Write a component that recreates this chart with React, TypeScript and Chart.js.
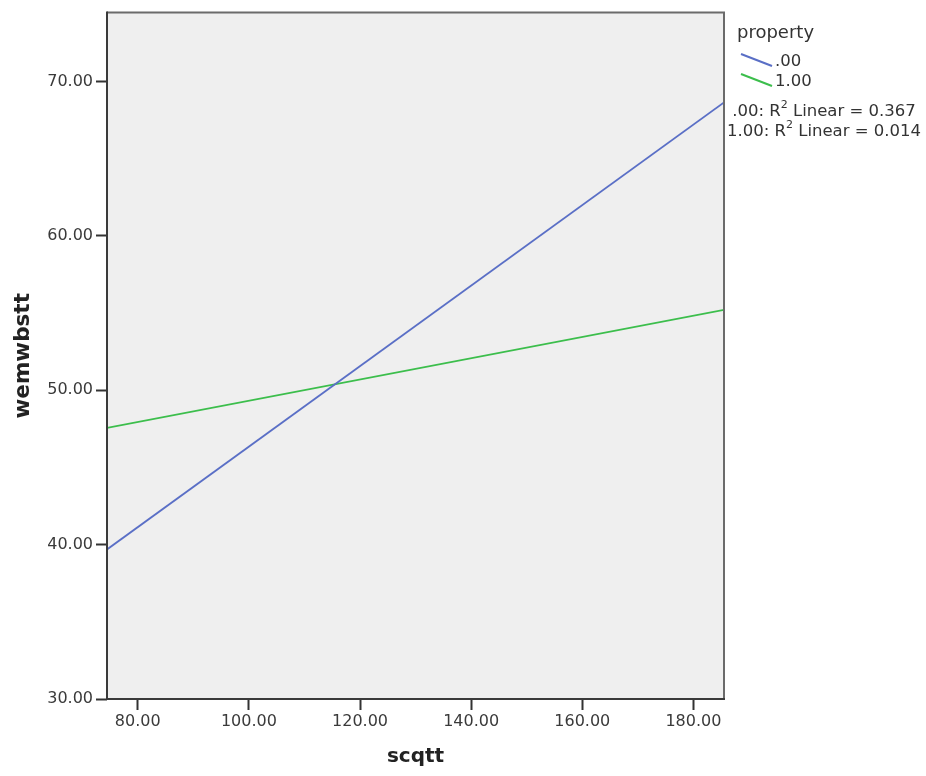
import React, { useEffect, useRef } from "react";
import { Chart, registerables } from "chart.js";

Chart.register(...registerables);

// ---- data ----
const xRange = [74.47, 185.5];
const seriesNames = [".00", "1.00"];
const series0Y = [39.69, 68.64];
const series1Y = [47.56, 55.2];
const r2Values = ["0.367", "0.014"];
const xTicks = [80, 100, 120, 140, 160, 180];
const yTicks = [30, 40, 50, 60, 70];
const yRange = [30, 74.46];
const xTitle = "scqtt";
const yTitle = "wemwbstt";
const legendTitle = "property";
const colors = ["#5a6fc6", "#3cbe4c"];

const FONT = "'DejaVu Sans', sans-serif";

const decorPlugin = {
  id: "decor",
  beforeDraw(chart: any) {
    const { ctx, chartArea: a } = chart;
    ctx.save();
    ctx.fillStyle = "#efefef";
    ctx.fillRect(a.left, a.top, a.right - a.left, a.bottom - a.top);
    ctx.restore();
  },
  afterDatasetsDraw(chart: any) {
    const { ctx, chartArea: a } = chart;
    ctx.save();
    ctx.lineWidth = 2;
    // top & right
    ctx.strokeStyle = "#6b6b6b";
    ctx.beginPath();
    ctx.moveTo(a.left, a.top);
    ctx.lineTo(a.right, a.top);
    ctx.lineTo(a.right, a.bottom);
    ctx.stroke();
    // left & bottom
    ctx.strokeStyle = "#3a3a3a";
    ctx.beginPath();
    ctx.moveTo(a.left, a.top - 1);
    ctx.lineTo(a.left, a.bottom);
    ctx.lineTo(a.right + 1, a.bottom);
    ctx.stroke();

    // legend
    const lx = a.right + 13;
    ctx.fillStyle = "#333";
    ctx.textBaseline = "middle";
    ctx.textAlign = "left";
    ctx.font = `18px ${FONT}`;
    ctx.fillText(legendTitle, lx, 33);
    seriesNames.forEach((name, i) => {
      const y0 = 54 + i * 20;
      ctx.strokeStyle = colors[i];
      ctx.lineWidth = 2;
      ctx.beginPath();
      ctx.moveTo(lx + 4, y0);
      ctx.lineTo(lx + 35, y0 + 12);
      ctx.stroke();
      ctx.fillStyle = "#333";
      ctx.font = `16.5px ${FONT}`;
      ctx.fillText(name, lx + 38, y0 + 8);
    });
    // R2 lines
    seriesNames.forEach((name, i) => {
      const y = 112 + i * 20;
      const pre = `${name}: R`;
      const sup = "2";
      const post = ` Linear = ${r2Values[i]}`;
      ctx.font = `16.5px ${FONT}`;
      const w1 = ctx.measureText(pre).width;
      const w3 = ctx.measureText(post).width;
      ctx.font = `11px ${FONT}`;
      const w2 = ctx.measureText(sup).width;
      const total = w1 + w2 + w3;
      let x = 824 - total / 2;
      ctx.fillStyle = "#333";
      ctx.font = `16.5px ${FONT}`;
      ctx.fillText(pre, x, y);
      x += w1;
      ctx.font = `11px ${FONT}`;
      ctx.fillText(sup, x, y - 7);
      x += w2;
      ctx.font = `16.5px ${FONT}`;
      ctx.fillText(post, x, y);
    });
    ctx.restore();
  },
};

export default function App() {
  const ref = useRef<HTMLCanvasElement>(null);
  useEffect(() => {
    if (!ref.current) return;
    const chart = new Chart(ref.current, {
      type: "line",
      data: {
        datasets: [
          {
            label: seriesNames[0],
            data: xRange.map((x, i) => ({ x, y: series0Y[i] })),
            borderColor: colors[0],
            borderWidth: 1.8,
            pointRadius: 0,
            fill: false,
          },
          {
            label: seriesNames[1],
            data: xRange.map((x, i) => ({ x, y: series1Y[i] })),
            borderColor: colors[1],
            borderWidth: 1.8,
            pointRadius: 0,
            fill: false,
          },
        ],
      },
      options: {
        animation: false,
        responsive: false,
        layout: { padding: { top: 11, right: 202, left: 0, bottom: 0 } },
        plugins: { legend: { display: false }, tooltip: { enabled: false } },
        scales: {
          x: {
            type: "linear",
            position: "bottom",
            min: xRange[0],
            max: xRange[1],
            afterBuildTicks: (s: any) => {
              s.ticks = xTicks.map((v) => ({ value: v }));
            },
            afterFit: (s: any) => {
              s.height = 77;
            },
            border: { display: false },
            grid: {
              drawOnChartArea: false,
              drawTicks: true,
              tickLength: 11,
              tickWidth: 2,
              tickColor: "#333",
            },
            ticks: {
              padding: 2,
              color: "#3a3a3a",
              font: { family: FONT, size: 16 },
              maxRotation: 0,
              autoSkip: false,
              callback: (v: any) => Number(v).toFixed(2),
            },
            title: {
              display: true,
              text: xTitle,
              color: "#222",
              font: { family: FONT, size: 20, weight: "bold" },
              padding: { top: 0, bottom: 7 },
            },
          },
          y: {
            type: "linear",
            min: yRange[0],
            max: yRange[1],
            afterBuildTicks: (s: any) => {
              s.ticks = yTicks.map((v) => ({ value: v }));
            },
            afterFit: (s: any) => {
              s.width = 107;
            },
            border: { display: false },
            grid: {
              drawOnChartArea: false,
              drawTicks: true,
              tickLength: 11,
              tickWidth: 2,
              tickColor: "#333",
            },
            ticks: {
              padding: 3,
              color: "#3a3a3a",
              font: { family: FONT, size: 16 },
              autoSkip: false,
              callback: (v: any) => Number(v).toFixed(2),
            },
            title: {
              display: true,
              text: yTitle,
              color: "#222",
              font: { family: FONT, size: 21.5, weight: "bold" },
              padding: { top: 11, bottom: 0 },
            },
          },
        },
      } as any,
      plugins: [decorPlugin],
    });
    return () => chart.destroy();
  }, []);
  return (
    <div style={{ position: "absolute", left: 0, top: 0, width: 926, height: 776, background: "#fff" }}>
      <canvas ref={ref} width={926} height={776} style={{ display: "block" }} />
    </div>
  );
}
